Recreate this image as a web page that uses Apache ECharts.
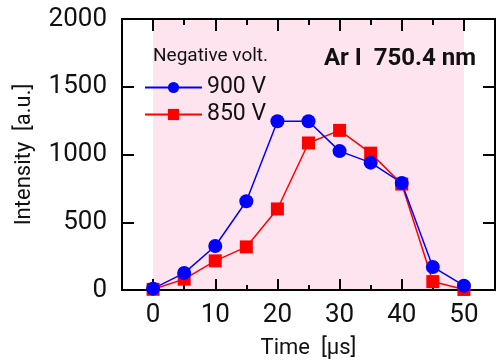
<!DOCTYPE html>
<html>
<head>
<meta charset="utf-8">
<script src="https://cdn.jsdelivr.net/npm/echarts@6/dist/echarts.min.js"></script>
<style>
  html, body { margin: 0; padding: 0; background: #fff; }
  #chart { width: 497px; height: 364px; }
</style>
</head>
<body>
<div id="chart"></div>
<script>
// time in microseconds
const timeUs = [0, 5, 10, 15, 20, 25, 30, 35, 40, 45, 50]
const volt900 = [10, 125, 325, 655, 1245, 1245, 1025, 940, 790, 170, 32]
const volt850 = [5, 80, 215, 318, 598, 1085, 1178, 1010, 782, 62, 4]
const xMajor = [0, 10, 20, 30, 40, 50]
const xMinor = [5, 15, 25, 35, 45]
const shadeSpan = [0, 50]

const font = 'Roboto, "DejaVu Sans", sans-serif'
const chart = echarts.init(document.getElementById('chart'))

function pairs(ys) {
  return timeUs.map((t, i) => [t, ys[i]])
}

function xAx(pos, ticks, len, main) {
  return {
    type: 'value',
    position: pos,
    min: -5,
    max: 55,
    interval: 5,
    name: main ? 'Time  [μs]' : '',
    nameLocation: 'middle',
    nameGap: 47,
    nameTextStyle: { fontFamily: font, fontSize: 22, color: '#111' },
    axisLine: { show: main || pos === 'top', onZero: false, lineStyle: { color: '#000', width: 2 } },
    axisTick: { show: true, inside: true, length: len, customValues: ticks, lineStyle: { color: '#000', width: 2 } },
    axisLabel: {
      show: main,
      customValues: xMajor,
      margin: 12,
      fontFamily: font,
      fontSize: 26,
      color: '#111'
    },
    splitLine: { show: false }
  }
}

// left y ticks drawn by an axis moved over from the right side
function yAx(pos, kind) {
  return {
    type: 'value',
    position: pos,
    offset: kind === 'ticks' ? -373 : 0,
    min: 0,
    max: 2000,
    interval: 500,
    name: kind === 'main' ? 'Intensity  [a.u.]' : '',
    nameLocation: 'middle',
    nameGap: 87,
    nameTextStyle: { fontFamily: font, fontSize: 22, color: '#111' },
    axisLine: { show: kind !== 'ticks', onZero: false, lineStyle: { color: '#000', width: 2 } },
    axisTick: {
      show: kind !== 'main',
      inside: kind === 'right',
      length: 12,
      lineStyle: { color: '#000', width: 2 }
    },
    axisLabel: {
      show: kind === 'main',
      margin: 15,
      fontFamily: font,
      fontSize: 26,
      color: '#111',
      formatter: v => String(v)
    },
    splitLine: { show: false }
  }
}

const option = {
  animation: false,
  backgroundColor: '#fff',
  title: [
    { text: 'Negative volt.', left: 148, top: 42, textStyle: { fontFamily: font, fontSize: 19, fontWeight: 'normal', color: '#111' } },
    { text: 'Ar I  750.4 nm', right: 16, top: 42, textStyle: { fontFamily: font, fontSize: 24, fontWeight: 'bold', color: '#111' } }
  ],
  grid: { left: 122, right: 2, top: 19, bottom: 74, containLabel: false, outerBoundsMode: 'none' },
  legend: {
    orient: 'vertical',
    left: 139,
    top: 71,
    itemWidth: 57,
    itemHeight: 14,
    itemGap: 4,
    data: ['900 V', '850 V'],
    textStyle: { fontFamily: font, fontSize: 23, color: '#111' }
  },
  xAxis: [
    xAx('bottom', xMajor, 11, true),
    xAx('top', xMajor, 12, false),
    xAx('bottom', xMinor, 5, false),
    xAx('top', xMinor, 6, false)
  ],
  yAxis: [yAx('left', 'main'), yAx('right', 'right'), yAx('right', 'ticks')],
  series: [
    {
      name: 'shade',
      type: 'line',
      data: shadeSpan.map(t => [t, 2000]),
      symbol: 'none',
      silent: true,
      z: -1,
      lineStyle: { width: 0 },
      areaStyle: { color: '#fde4ef', opacity: 1, origin: 'start' }
    },
    {
      name: '850 V',
      type: 'line',
      data: pairs(volt850),
      symbol: 'rect',
      symbolSize: 13,
      color: '#ff0000',
      lineStyle: { width: 1.5, color: '#ff0000' },
      itemStyle: { color: '#ff0000' }
    },
    {
      name: '900 V',
      type: 'line',
      data: pairs(volt900),
      symbol: 'circle',
      symbolSize: 14,
      color: '#0000ff',
      lineStyle: { width: 1.5, color: '#0000ff' },
      itemStyle: { color: '#0000ff' }
    }
  ]
}

chart.setOption(option)
</script>
</body>
</html>
